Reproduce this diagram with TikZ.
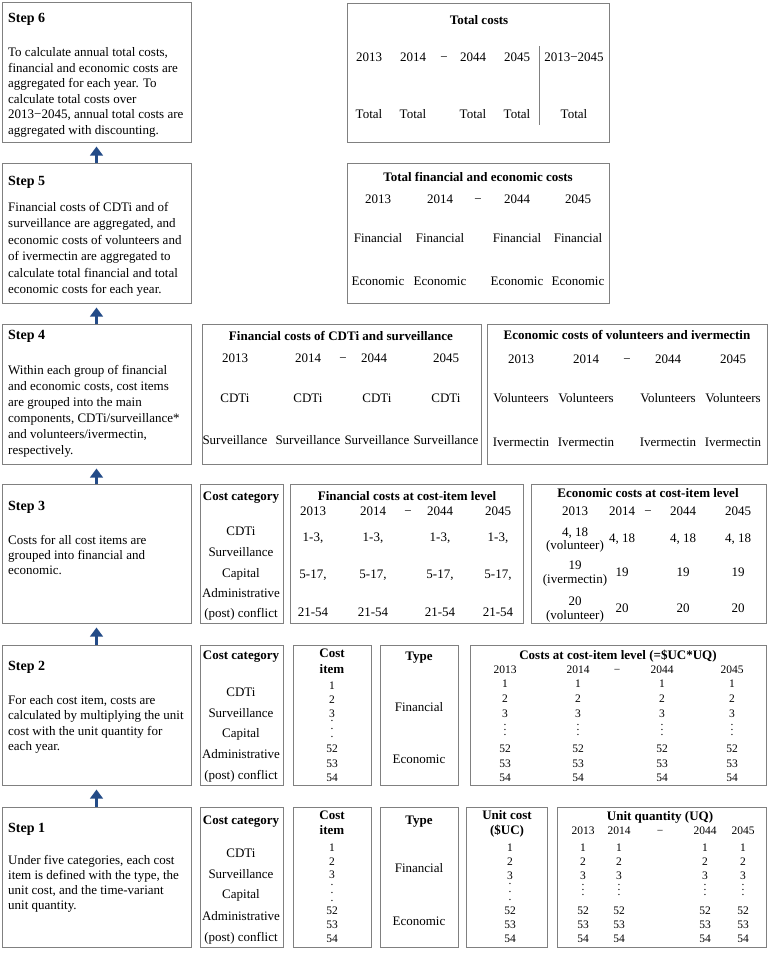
\documentclass[tikz,border=0pt]{standalone}
\usepackage{fontspec}
\setmainfont{Liberation Serif}
\usetikzlibrary{arrows.meta}
\definecolor{bordergray}{RGB}{128,128,128}
\definecolor{arrowblue}{RGB}{35,75,135}
\newcount\tcnt
\newcommand\mns{\char"2212\relax}
\newcommand\vd[1]{\vbox{\baselineskip#1\lineskiplimit0pt\lineskip0pt\hbox{.}\hbox{.}\hbox{.}}}
\newcommand\Bx[5]{\pgfmathsetmacro\bw{#4-#2}\pgfmathsetmacro\bh{#5-#3}\pgfmathsetmacro\bcx{(#2+#4)/2}\pgfmathsetmacro\bcy{(#3+#5)/2}\node[bxs, minimum width=\bw pt, minimum height=\bh pt] (#1) at (\bcx,\bcy) {};}
\newcommand\Ct[4][]{\global\advance\tcnt by 1\relax\node[txt,#1] (t\the\tcnt) at (#2,#3+4.5) {#4};}
\newcommand\Lt[4][]{\global\advance\tcnt by 1\relax\node[txt,anchor=base west,#1] (t\the\tcnt) at (#2,#3+4.5) {#4};}
\newcommand\Dt[3]{\global\advance\tcnt by 1\relax\node[inner sep=0pt,anchor=center,font=\fontsize{11.5}{13}\selectfont] (t\the\tcnt) at (#1,#2) {#3};}
\tikzset{
  bxs/.style={draw=bordergray, line width=1pt, inner sep=0pt},
  arr/.style={draw=arrowblue, line width=3.6pt, -{Triangle[width=12.5pt,length=9pt]}, shorten >=4pt},
  txt/.style={inner sep=0pt, anchor=base, font=\fontsize{13}{15}\selectfont},
  bfs/.style={font=\bfseries\fontsize{13}{15}\selectfont},
  hd/.style={font=\bfseries\fontsize{14}{16}\selectfont},
  sm/.style={font=\fontsize{11.5}{13}\selectfont},
  vline/.style={draw=bordergray, line width=1pt}
}
\begin{document}
\begin{tikzpicture}[x=1pt,y=-1pt]
\useasboundingbox (0,0) rectangle (769,959);
% step boxes
\Bx{s6}{2}{2}{191}{142}
\Bx{s5}{2}{163}{191}{303}
\Bx{s4}{2}{324}{191}{464}
\Bx{s3}{2}{484}{191}{623}
\Bx{s2}{2}{645}{191}{785}
\Bx{s1}{2}{807}{191}{947}
\draw[arr] (s1.north) -- (s2.south);
\draw[arr] (s2.north) -- (s3.south);
\draw[arr] (s3.north) -- (s4.south);
\draw[arr] (s4.north) -- (s5.south);
\draw[arr] (s5.north) -- (s6.south);
% step texts
\Lt[hd]{8}{18}{Step 6}
\Lt{8}{52}{To calculate annual total costs,}
\Lt{8}{67.6}{financial and economic costs are}
\Lt{8}{83.2}{aggregated for each year. To}
\Lt{8}{98.8}{calculate total costs over}
\Lt{8}{114.4}{2013\mns2045, annual total costs are}
\Lt{8}{130}{aggregated with discounting.}
\Lt[hd]{8}{181}{Step 5}
\Lt{8}{207}{Financial costs of CDTi and of}
\Lt{8}{223.4}{surveillance are aggregated, and}
\Lt{8}{239.8}{economic costs of volunteers and}
\Lt{8}{256.2}{of ivermectin are aggregated to}
\Lt{8}{272.6}{calculate total financial and total}
\Lt{8}{289}{economic costs for each year.}
\Lt[hd]{8}{335}{Step 4}
\Lt{8}{370}{Within each group of financial}
\Lt{8}{386}{and economic costs, cost items}
\Lt{8}{402}{are grouped into the main}
\Lt{8}{418}{components, CDTi/surveillance*}
\Lt{8}{434}{and volunteers/ivermectin,}
\Lt{8}{450}{respectively.}
\Lt[hd]{8}{506}{Step 3}
\Lt{8}{540}{Costs for all cost items are}
\Lt{8}{555}{grouped into financial and}
\Lt{8}{570}{economic.}
\Lt[hd]{8}{666}{Step 2}
\Lt{8}{700}{For each cost item, costs are}
\Lt{8}{715.3}{calculated by multiplying the unit}
\Lt{8}{730.6}{cost with the unit quantity for}
\Lt{8}{746}{each year.}
\Lt[hd]{8}{828}{Step 1}
\Lt{8}{860}{Under five categories, each cost}
\Lt{8}{875}{item is defined with the type, the}
\Lt{8}{890}{unit cost, and the time-variant}
\Lt{8}{905}{unit quantity.}
% ---- Step 6 table
\Bx{b6}{347}{3}{609}{142}
\Ct[bfs]{479}{20}{Total costs}
\Ct{369}{57}{2013}\Ct{413}{57}{2014}\Ct{444}{57}{\mns}\Ct{473}{57}{2044}\Ct{517}{57}{2045}\Ct{574}{57}{2013\mns2045}
\Ct{369}{114}{Total}\Ct{413}{114}{Total}\Ct{473}{114}{Total}\Ct{517}{114}{Total}\Ct{574}{114}{Total}
\coordinate (v6a) at (539,46);
\coordinate (v6b) at (539,125);
\draw[vline] (v6a) -- (v6b);
% ---- Step 5 table
\Bx{b5}{347}{163}{609}{303}
\Ct[bfs]{478}{177}{Total financial and economic costs}
\Ct{378}{199}{2013}\Ct{440}{199}{2014}\Ct{478}{199}{\mns}\Ct{517}{199}{2044}\Ct{578}{199}{2045}
\Ct{378}{238}{Financial}\Ct{440}{238}{Financial}\Ct{517}{238}{Financial}\Ct{578}{238}{Financial}
\Ct{378}{281}{Economic}\Ct{440}{281}{Economic}\Ct{517}{281}{Economic}\Ct{578}{281}{Economic}
% ---- Step 4 tables
\Bx{b4a}{202}{324}{481}{464}
\Ct[bfs]{341}{336}{Financial costs of CDTi and surveillance}
\Ct{235}{358}{2013}\Ct{308}{358}{2014}\Ct{343}{358}{\mns}\Ct{374}{358}{2044}\Ct{446}{358}{2045}
\Ct{235}{398}{CDTi}\Ct{308}{398}{CDTi}\Ct{377}{398}{CDTi}\Ct{446}{398}{CDTi}
\Ct{235}{440}{Surveillance}\Ct{308}{440}{Surveillance}\Ct{377}{440}{Surveillance}\Ct{446}{440}{Surveillance}
\Bx{b4b}{487}{324}{767}{464}
\Ct[bfs]{627}{335}{Economic costs of volunteers and ivermectin}
\Ct{521}{359}{2013}\Ct{586}{359}{2014}\Ct{627}{359}{\mns}\Ct{668}{359}{2044}\Ct{733}{359}{2045}
\Ct{521}{398}{Volunteers}\Ct{586}{398}{Volunteers}\Ct{668}{398}{Volunteers}\Ct{733}{398}{Volunteers}
\Ct{521}{442}{Ivermectin}\Ct{586}{442}{Ivermectin}\Ct{668}{442}{Ivermectin}\Ct{733}{442}{Ivermectin}
% ---- Step 3 tables
\Bx{b3a}{200}{484}{283}{623}
\Ct[bfs]{241}{496}{Cost category}
\Ct{241}{531}{CDTi}\Ct{241}{552}{Surveillance}\Ct{241}{573}{Capital}\Ct{241}{593}{Administrative}\Ct{241}{613}{(post) conflict}
\Bx{b3b}{290}{484}{523}{623}
\Ct[bfs]{407}{496}{Financial costs at cost-item level}
\Ct{313}{511}{2013}\Ct{373}{511}{2014}\Ct{408}{511}{\mns}\Ct{440}{511}{2044}\Ct{498}{511}{2045}
\Ct{313}{537}{1-3,}\Ct{373}{537}{1-3,}\Ct{440}{537}{1-3,}\Ct{498}{537}{1-3,}
\Ct{313}{574}{5-17,}\Ct{373}{574}{5-17,}\Ct{440}{574}{5-17,}\Ct{498}{574}{5-17,}
\Ct{313}{612}{21-54}\Ct{373}{612}{21-54}\Ct{440}{612}{21-54}\Ct{498}{612}{21-54}
\Bx{b3c}{531}{484}{766}{623}
\Ct[bfs]{648}{493}{Economic costs at cost-item level}
\Ct{575}{511}{2013}\Ct{622}{511}{2014}\Ct{648}{511}{\mns}\Ct{683}{511}{2044}\Ct{738}{511}{2045}
\Ct{575}{532}{4, 18}\Ct{575}{545}{(volunteer)}
\Ct{622}{538}{4, 18}\Ct{683}{538}{4, 18}\Ct{738}{538}{4, 18}
\Ct{575}{565}{19}\Ct{575}{579}{(ivermectin)}
\Ct{622}{572}{19}\Ct{683}{572}{19}\Ct{738}{572}{19}
\Ct{575}{601}{20}\Ct{575}{615}{(volunteer)}
\Ct{622}{608}{20}\Ct{683}{608}{20}\Ct{738}{608}{20}
% ---- Step 2 tables
\Bx{b2a}{200}{645}{283}{785}
\Ct[bfs]{241}{655}{Cost category}
\Ct{241}{692}{CDTi}\Ct{241}{713}{Surveillance}\Ct{241}{733}{Capital}\Ct{241}{754}{Administrative}\Ct{241}{775}{(post) conflict}
\Bx{b2b}{293}{645}{371}{785}
\Ct[bfs]{332}{653}{Cost}\Ct[bfs]{332}{669}{item}
\Ct[sm]{332}{685}{1}\Ct[sm]{332}{699}{2}\Ct[sm]{332}{713}{3}\Dt{332}{729}{\vd{8pt}}\Ct[sm]{332}{748}{52}\Ct[sm]{332}{763}{53}\Ct[sm]{332}{777}{54}
\Bx{b2c}{380}{645}{458}{785}
\Ct[bfs]{419}{656}{Type}
\Ct{419}{707}{Financial}\Ct{419}{759}{Economic}
\Bx{b2d}{470}{645}{766}{785}
\Ct[bfs]{618}{655}{Costs at cost-item level (=\$UC*UQ)}
\Ct[sm]{505}{669}{2013}\Ct[sm]{578}{669}{2014}\Ct[sm]{617}{669}{\mns}\Ct[sm]{662}{669}{2044}\Ct[sm]{732}{669}{2045}
\foreach \xx in {505,578,662,732}{
  \Ct[sm]{\xx}{683}{1}\Ct[sm]{\xx}{698}{2}\Ct[sm]{\xx}{713}{3}\Dt{\xx}{730}{\vd{5pt}}\Ct[sm]{\xx}{748}{52}\Ct[sm]{\xx}{763}{53}\Ct[sm]{\xx}{777}{54}
}
% ---- Step 1 tables
\Bx{b1a}{200}{807}{283}{947}
\Ct[bfs]{241}{820}{Cost category}
\Ct{241}{853}{CDTi}\Ct{241}{874}{Surveillance}\Ct{241}{894}{Capital}\Ct{241}{916}{Administrative}\Ct{241}{937}{(post) conflict}
\Bx{b1b}{293}{807}{371}{947}
\Ct[bfs]{332}{815}{Cost}\Ct[bfs]{332}{830}{item}
\Ct[sm]{332}{847}{1}\Ct[sm]{332}{861}{2}\Ct[sm]{332}{874}{3}\Dt{332}{893}{\vd{8pt}}\Ct[sm]{332}{910}{52}\Ct[sm]{332}{924}{53}\Ct[sm]{332}{938}{54}
\Bx{b1c}{380}{807}{458}{947}
\Ct[bfs]{419}{820}{Type}
\Ct{419}{868}{Financial}\Ct{419}{921}{Economic}
\Bx{b1d}{466}{807}{547}{947}
\Ct[bfs]{507}{815}{Unit cost}\Ct[bfs]{507}{830}{(\$UC)}
\Ct[sm]{510}{847}{1}\Ct[sm]{510}{861}{2}\Ct[sm]{510}{875}{3}\Dt{510}{892}{\vd{8pt}}\Ct[sm]{510}{910}{52}\Ct[sm]{510}{924}{53}\Ct[sm]{510}{938}{54}
\Bx{b1e}{557}{807}{766}{947}
\Ct[bfs]{660}{816}{Unit quantity (UQ)}
\Ct[sm]{583}{830}{2013}\Ct[sm]{619}{830}{2014}\Ct[sm]{660}{830}{\mns}\Ct[sm]{705}{830}{2044}\Ct[sm]{743}{830}{2045}
\foreach \xx in {583,619,705,743}{
  \Ct[sm]{\xx}{847}{1}\Ct[sm]{\xx}{861}{2}\Ct[sm]{\xx}{875}{3}\Dt{\xx}{890}{\vd{5pt}}\Ct[sm]{\xx}{910}{52}\Ct[sm]{\xx}{924}{53}\Ct[sm]{\xx}{938}{54}
}
\end{tikzpicture}
\end{document}
